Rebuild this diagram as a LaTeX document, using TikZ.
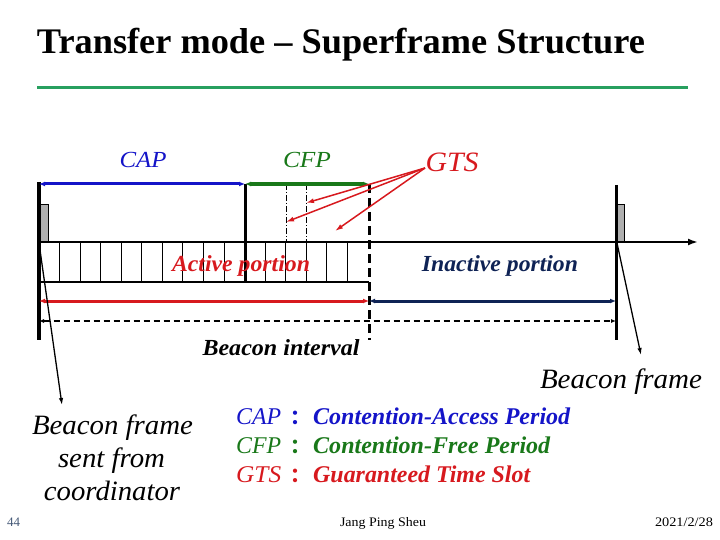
\documentclass[tikz,border=0pt]{standalone}
\usepackage{fontspec}
\setmainfont{Liberation Serif}
\newfontfamily\cjk{Noto Sans CJK SC}
\usepackage{graphicx}
\usetikzlibrary{arrows.meta}
\definecolor{capblue}{RGB}{20,20,200}
\definecolor{cfpgreen}{RGB}{25,120,25}
\definecolor{gtsred}{RGB}{215,25,30}
\definecolor{navyb}{RGB}{15,35,85}
\definecolor{titlegreen}{RGB}{40,160,95}
\definecolor{beacongray}{RGB}{175,175,175}
\definecolor{pagenum}{RGB}{70,90,120}
\newcommand\fw[2]{\resizebox{#1}{\height}{#2}}
\newcommand\fs[1]{\fontsize{#1}{#1}\selectfont}
\tikzset{
  txt/.style={inner sep=0pt, anchor=base},
  lbl/.style={inner sep=0pt, anchor=base, font=\bfseries\itshape},
  lblw/.style={inner sep=0pt, anchor=base west, font=\bfseries\itshape},
  ilbl/.style={inner sep=0pt, anchor=base, font=\itshape},
  ilblw/.style={inner sep=0pt, anchor=base west, font=\itshape},
  dbl/.style={{Latex[length=6pt,width=5pt]}-{Latex[length=6pt,width=5pt]}},
  slotline/.style={line width=1pt},
  gtsline/.style={line width=0.8pt, dash pattern=on 6pt off 2pt on 1pt off 2pt},
  gtsarrow/.style={gtsred, line width=1.5pt, -{Latex[length=8pt,width=5pt]}},
  beaconarrow/.style={line width=1.3pt, -{Latex[length=7pt,width=4.5pt]}},
}
\begin{document}
\begin{tikzpicture}[x=1pt,y=-1pt]
\useasboundingbox (0,0) rectangle (720,540);

% title
\node[txt] (title) at (341,54) {\fs{36}\bfseries\fw{608pt}{Transfer mode – Superframe Structure}};
\draw[titlegreen, line width=3pt] (37,88) -- (688,88);

% key coordinates
\coordinate (ltop) at (39,182);
\coordinate (lbot) at (39,340);
\coordinate (rtop) at (616,185);
\coordinate (rbot) at (616,340);
\coordinate (axs) at (39,242);
\coordinate (axe) at (698,242);
\coordinate (mtop) at (245,184);
\coordinate (mbot) at (245,282);
\coordinate (dtop) at (369,184);
\coordinate (dbot) at (369,340);

% slots
\foreach \i in {1,...,15} {
  \draw[slotline] ({39+\i*20.56},242) -- ({39+\i*20.56},282);
}
\draw[line width=1.5pt] (39,282) -- (369,282);
\draw[gtsline] (286.7,184) -- (286.7,242);
\draw[gtsline] (306.7,184) -- (306.7,242);

% beacon boxes
\draw[line width=0.6pt, fill=beacongray] (40.5,204) rectangle (48,242);
\draw[line width=0.6pt, fill=beacongray] (617.5,204) rectangle (624,242);

% axis and verticals
\draw[line width=2.2pt, -{Latex[length=10pt,width=7pt]}] (axs) -- (axe);
\draw[line width=3.5pt] (ltop) -- (lbot);
\draw[line width=3pt] (rtop) -- (rbot);
\draw[line width=3pt] (mtop) -- (mbot);
\draw[line width=3pt, dash pattern=on 9pt off 5pt] (dtop) -- (dbot);

% CAP / CFP arrows
\coordinate (capL) at (39,184);
\coordinate (cfpR) at (369,184);
\draw[capblue, line width=3pt, dbl] (capL) -- (mtop);
\draw[cfpgreen, line width=3.5pt, dbl] (mtop) -- (cfpR);

% active / inactive arrows
\coordinate (actL) at (39,301);
\coordinate (actR) at (369,301);
\coordinate (inaR) at (616,301);
\draw[gtsred, line width=3pt, dbl] (actL) -- (actR);
\draw[navyb, line width=3pt, dbl] (actR) -- (inaR);

% beacon interval arrow
\coordinate (biL) at (39,321);
\coordinate (biR) at (616,321);
\draw[line width=1.8pt, dash pattern=on 6pt off 4pt, {Latex[length=5pt,width=4pt]}-{Latex[length=5pt,width=4pt]}] (biL) -- (biR);

% labels
\node[ilbl, text=capblue] (cap) at (143,168) {\fs{23}\fw{47pt}{CAP}};
\node[ilbl, text=cfpgreen] (cfp) at (307,168) {\fs{23}\fw{48pt}{CFP}};
\node[ilbl, text=gtsred] (gts) at (452,172) {\fs{28}\fw{53pt}{GTS}};
\node[lbl, text=gtsred] (active) at (241,271) {\fs{23}\fw{138pt}{Active portion}};
\node[lbl, text=navyb] (inactive) at (500,271) {\fs{23}\fw{156pt}{Inactive portion}};
\node[lbl] (interval) at (281,355) {\fs{23}\fw{157pt}{Beacon interval}};
\node[ilbl] (bfright) at (621,388) {\fs{28}\fw{162pt}{Beacon frame}};
\node[ilbl] (bfl1) at (112.5,434) {\fs{28}\fw{161pt}{Beacon frame}};
\node[ilbl] (bfl2) at (111.5,467) {\fs{28}\fw{107pt}{sent from}};
\node[ilbl] (bfl3) at (112,500) {\fs{28}\fw{136pt}{coordinator}};

% GTS arrows
\coordinate (gtsfrom) at (425,168);
\coordinate (g1) at (306,203);
\coordinate (g2) at (286,222);
\coordinate (g3) at (335,231);
\draw[gtsarrow] (gtsfrom) -- (g1);
\draw[gtsarrow] (gtsfrom) -- (g2);
\draw[gtsarrow] (gtsfrom) -- (g3);

% beacon frame arrows
\coordinate (bls) at (39,243);
\coordinate (ble) at (62,405);
\coordinate (brs) at (617,243);
\coordinate (bre) at (641,355);
\draw[beaconarrow] (bls) -- (ble);
\draw[beaconarrow] (brs) -- (bre);

% legend
\node[ilblw, text=capblue] (l1a) at (236,424) {\fs{24}\fw{45pt}{CAP}};
\node[txt, text=capblue] (l1b) at (300,424) {\fs{20}\cjk\bfseries ：};
\node[lblw, text=capblue] (l1c) at (313,424) {\fs{24}\fw{257pt}{Contention-Access Period}};
\node[ilblw, text=cfpgreen] (l2a) at (236,453) {\fs{24}\fw{45pt}{CFP}};
\node[txt, text=cfpgreen] (l2b) at (300,453) {\fs{20}\cjk\bfseries ：};
\node[lblw, text=cfpgreen] (l2c) at (313,453) {\fs{24}\fw{237pt}{Contention-Free Period}};
\node[ilblw, text=gtsred] (l3a) at (236,482) {\fs{24}\fw{45pt}{GTS}};
\node[txt, text=gtsred] (l3b) at (300,482) {\fs{20}\cjk\bfseries ：};
\node[lblw, text=gtsred] (l3c) at (313,482) {\fs{24}\fw{217pt}{Guaranteed Time Slot}};

% footer
\node[txt, text=pagenum] (pnum) at (13.5,526) {\fs{13}\fw{13pt}{44}};
\node[txt] (author) at (383,526) {\fs{13}\fw{86pt}{Jang Ping Sheu}};
\node[txt] (date) at (684,526) {\fs{13}\fw{58pt}{2021/2/28}};
\end{tikzpicture}
\end{document}
